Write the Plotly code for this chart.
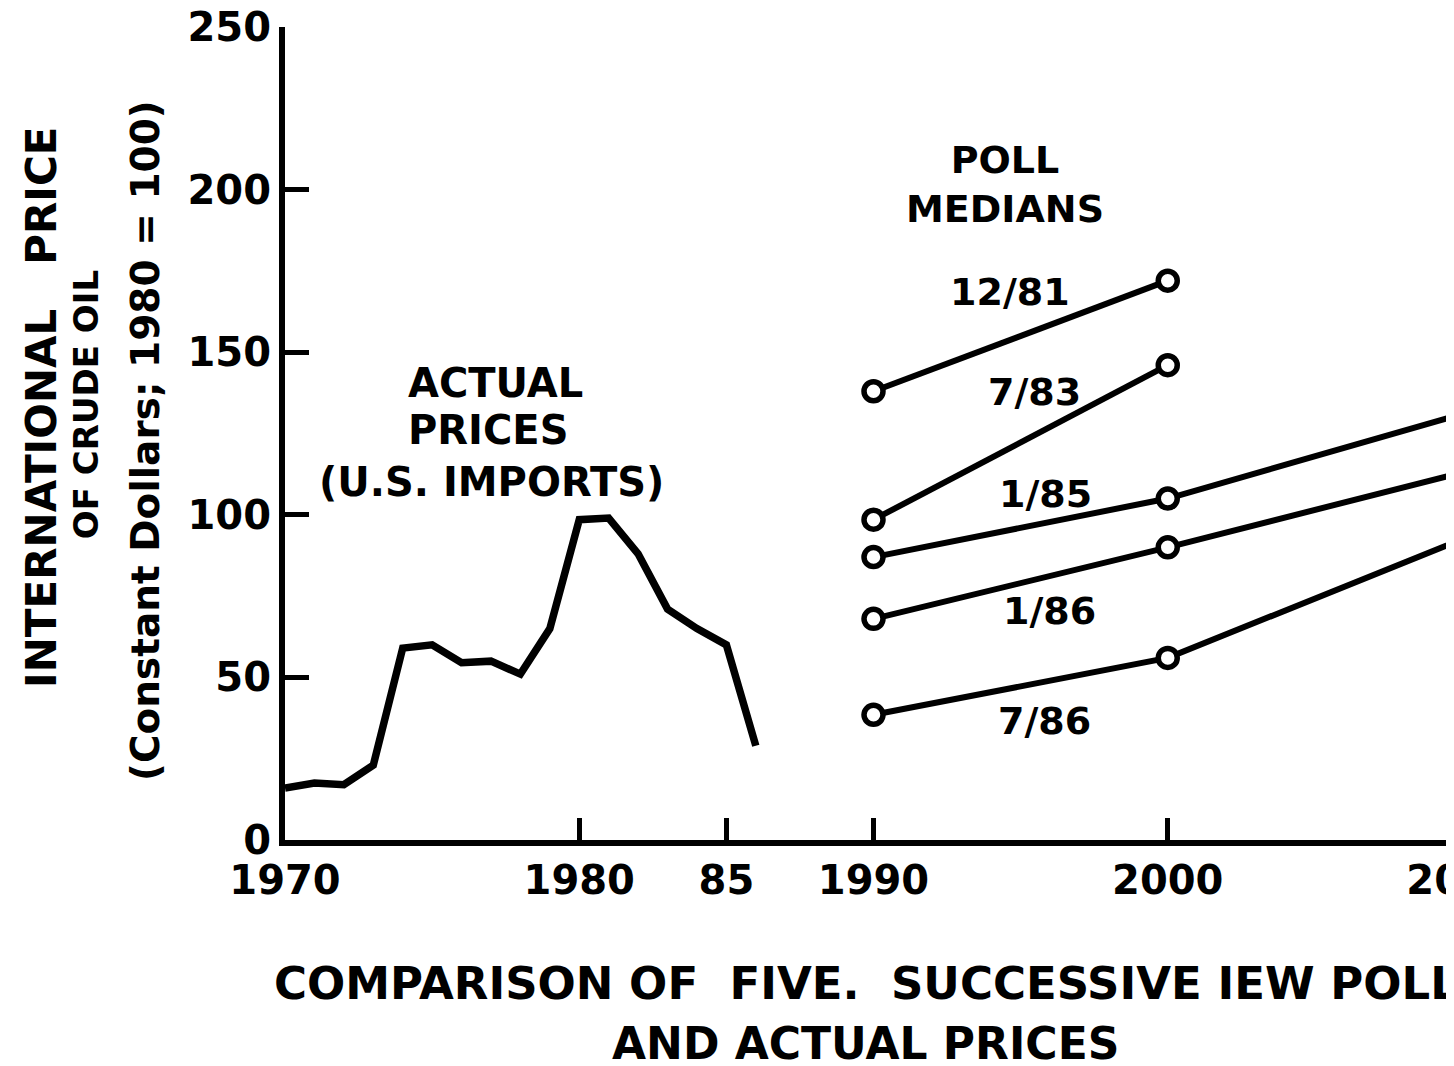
import plotly.graph_objects as go

# ---- data ----
actual_years = [1970, 1971, 1972, 1973, 1974, 1975, 1976, 1977, 1978,
                1979, 1980, 1981, 1982, 1983, 1984, 1985, 1986]
actual_prices = [16, 17.5, 17, 23, 59, 60, 54.5, 55, 51,
                 65, 98.5, 99, 88, 71, 65, 60, 29]

poll_names = ["12/81", "7/83", "1/85", "1/86", "7/86"]
poll_years = {
    "12/81": [1990, 2000],
    "7/83": [1990, 2000],
    "1/85": [1990, 2000, 2010],
    "1/86": [1990, 2000, 2010],
    "7/86": [1990, 2000, 2010],
}
poll_values = {
    "12/81": [138, 172],
    "7/83": [98.5, 146],
    "1/85": [87, 105, 131],
    "1/86": [68, 90, 113],
    "7/86": [38.5, 56, 92.5],
}
# label positions (year, value) for each poll line
poll_label_pos = {
    "12/81": (1994.63, 168.5),
    "7/83": (1995.48, 137.8),
    "1/85": (1995.86, 106.4),
    "1/86": (1995.99, 70.4),
    "7/86": (1995.82, 36.6),
}

x_tickvals = [1970, 1980, 1985, 1990, 2000, 2010]
x_ticktext = ["1970", "1980", "85", "1990", "2000", "2010"]
y_tickvals = [0, 50, 100, 150, 200, 250]

FONT = "DejaVu Sans"
fig = go.Figure()

fig.add_trace(go.Scatter(
    x=actual_years, y=actual_prices, mode="lines",
    line=dict(color="black", width=7.5),
    showlegend=False, hoverinfo="skip",
))

for name in poll_names:
    ys = poll_years[name]
    vs = poll_values[name]
    n_markers = 2
    fig.add_trace(go.Scatter(
        x=ys, y=vs, mode="lines+markers",
        line=dict(color="black", width=6),
        marker=dict(symbol="circle",
                    size=[19] * n_markers + [0] * (len(ys) - n_markers),
                    color="white", opacity=1,
                    line=dict(color="#000000", width=5.5)),
        showlegend=False, hoverinfo="skip",
    ))

ann = []
tf = dict(family=FONT, size=38, color="black", weight="bold")
for name in poll_names:
    xx, yy = poll_label_pos[name]
    ann.append(dict(x=xx, y=yy, xref="x", yref="y", text=name, showarrow=False,
                    font=tf, xanchor="center", yanchor="middle"))

ann.append(dict(x=1994.46, y=201.6, xref="x", yref="y", text="POLL<br>MEDIANS",
                showarrow=False, font=tf, xanchor="center", yanchor="middle"))

af = dict(family=FONT, size=40, color="black", weight="bold")
ann.append(dict(x=1977.14, y=140.5, xref="x", yref="y", text="ACTUAL",
                showarrow=False, font=af, xanchor="center", yanchor="middle"))
ann.append(dict(x=1976.93, y=126.1, xref="x", yref="y", text="PRICES",
                showarrow=False, font=af, xanchor="center", yanchor="middle"))
ann.append(dict(x=1977.03, y=110.1, xref="x", yref="y", text="(U.S. IMPORTS)",
                showarrow=False, font=af, xanchor="center", yanchor="middle"))

# y-axis title (three rotated lines)
ann.append(dict(x=-0.2065, y=0.5326, xref="paper", yref="paper",
                text="INTERNATIONAL&nbsp;&nbsp; PRICE", textangle=-90, showarrow=False,
                font=dict(family=FONT, size=42, color="black", weight="bold"),
                xanchor="center", yanchor="middle"))
ann.append(dict(x=-0.169, y=0.535, xref="paper", yref="paper",
                text="OF CRUDE OIL", textangle=-90, showarrow=False,
                font=dict(family=FONT, size=34, color="black", weight="bold"),
                xanchor="center", yanchor="middle"))
ann.append(dict(x=-0.119, y=0.492, xref="paper", yref="paper",
                text="(Constant Dollars; 1980 = 100)", textangle=-90, showarrow=False,
                font=dict(family=FONT, size=39, color="black", weight="bold"),
                xanchor="center", yanchor="middle"))

# bottom caption
cf = dict(family=FONT, size=45, color="black", weight="bold")
ann.append(dict(x=-0.011, y=-0.177, xref="paper", yref="paper",
                text="COMPARISON OF&nbsp; FIVE.&nbsp; SUCCESSIVE IEW POLLS",
                showarrow=False, font=cf, xanchor="left", yanchor="middle"))
ann.append(dict(x=0.4928, y=-0.2497, xref="paper", yref="paper",
                text="AND ACTUAL PRICES",
                showarrow=False, font=dict(family=FONT, size=44, color="black", weight="bold"),
                xanchor="center", yanchor="middle"))

fig.update_layout(
    width=1454, height=1066,
    margin=dict(l=277, r=0, t=19, b=234),
    paper_bgcolor="white", plot_bgcolor="white",
    font=dict(family=FONT, size=40, color="black", weight="bold"),
    annotations=ann,
    xaxis=dict(range=[1970, 2010], tickvals=x_tickvals, ticktext=x_ticktext,
               ticks="inside", ticklen=22, tickwidth=5, tickcolor="black",
               showline=True, linewidth=6, linecolor="black",
               showgrid=False, zeroline=False, automargin=False,
               ticklabeloverflow="allow",
               tickfont=dict(family=FONT, size=40, color="black", weight="bold")),
    yaxis=dict(range=[0, 250], tickvals=y_tickvals,
               ticks="inside", ticklen=24, tickwidth=5, tickcolor="black",
               showline=True, linewidth=6, linecolor="black",
               showgrid=False, zeroline=False, automargin=False,
               ticklabeloverflow="allow",
               tickfont=dict(family=FONT, size=40, color="black", weight="bold")),
)

fig.write_html("out.html")
